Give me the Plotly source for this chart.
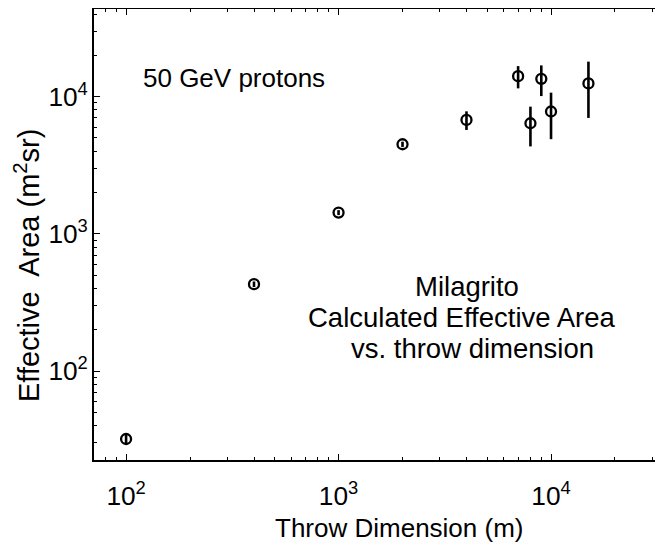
import plotly.graph_objects as go

# ---- data ----
throw_m = [100, 400, 1000, 2000, 4000, 7000, 8000, 9000, 10000, 15000]
eff_area = [32, 430, 1430, 4500, 6770, 14100, 6400, 13500, 7800, 12500]
eff_err = [3, 20, 60, 200, 1050, 2600, 2060, 3400, 2900, 5500]

x_title = "Throw Dimension (m)"
y_title = "Effective\u00a0 Area (m<sup>2</sup>sr)"
note_top = "50 GeV protons"
note_lines = ["Milagrito", "Calculated Effective Area", "vs. throw dimension"]

# ---- layout geometry (page body has an 8px margin, so positions are
#      given in window pixels and converted) ----
OFF = 8
W, H = 655, 537
L, R, T, B = 86, 0, 1, 85
PW, PH = W - L - R, H - T - B

def px(xw):
    return (xw - OFF - L) / PW

def py(yw):
    return 1 - (yw - OFF - T) / PH

FONT = "Liberation Sans, Arial, Helvetica, sans-serif"
xrange_log = [1.849, 4.527]
yrange_log = [1.352, 4.639]

fig = go.Figure()
fig.add_trace(go.Scatter(
    x=throw_m, y=eff_area, mode="markers",
    marker=dict(symbol="circle-open", size=10, color="black",
                line=dict(width=2.3, color="black")),
    error_y=dict(type="data", array=eff_err, visible=True,
                 thickness=2.6, width=0, color="black"),
    showlegend=False,
))

axis_common = dict(
    type="log", showgrid=False, zeroline=False, automargin=False,
    ticks="inside", ticklen=6, tickwidth=1.3, tickcolor="black",
    showline=True, linewidth=2, linecolor="black",
    dtick=1, exponentformat="power",
    tickfont=dict(family=FONT, size=21, color="black"),
    minor=dict(ticks="inside", ticklen=3, tickwidth=1, tickcolor="black",
               dtick="D1", showgrid=False),
)

fig.update_layout(
    width=W, height=H,
    margin=dict(l=L, r=R, t=T, b=B, pad=0),
    paper_bgcolor="white", plot_bgcolor="white",
    font=dict(family=FONT, color="black"),
    xaxis=dict(**axis_common, range=xrange_log, mirror="ticks",
               ticklabelstandoff=13),
    yaxis=dict(**axis_common, range=yrange_log, mirror=False,
               ticklabelstandoff=0),
    yaxis2=dict(type="log", range=yrange_log, overlaying="y", side="right",
                anchor="x", showgrid=False, zeroline=False, showline=False,
                automargin=False,
                ticks="inside", ticklen=4, tickwidth=1.3, tickcolor="black",
                dtick=1, showticklabels=False),
)

fig.add_annotation(text=note_top, xref="paper", yref="paper",
                   x=px(141), y=py(78), xanchor="left", yanchor="middle",
                   showarrow=False, font=dict(family=FONT, size=26, color="black"))

line_x = [467, 461, 472]
line_y = [286, 317, 348]
for txt, xw, yw in zip(note_lines, line_x, line_y):
    fig.add_annotation(text=txt, xref="paper", yref="paper",
                       x=px(xw), y=py(yw), xanchor="center", yanchor="middle",
                       showarrow=False,
                       font=dict(family=FONT, size=27.5, color="black"))

fig.add_annotation(text=x_title, xref="paper", yref="paper",
                   x=px(399), y=py(527.5), xanchor="center", yanchor="middle",
                   showarrow=False, font=dict(family=FONT, size=26, color="black"))
fig.add_annotation(text=y_title, xref="paper", yref="paper",
                   x=px(27), y=py(266), xanchor="center", yanchor="middle",
                   textangle=-90, showarrow=False,
                   font=dict(family=FONT, size=29, color="black"))

fig.write_html("out.html")
